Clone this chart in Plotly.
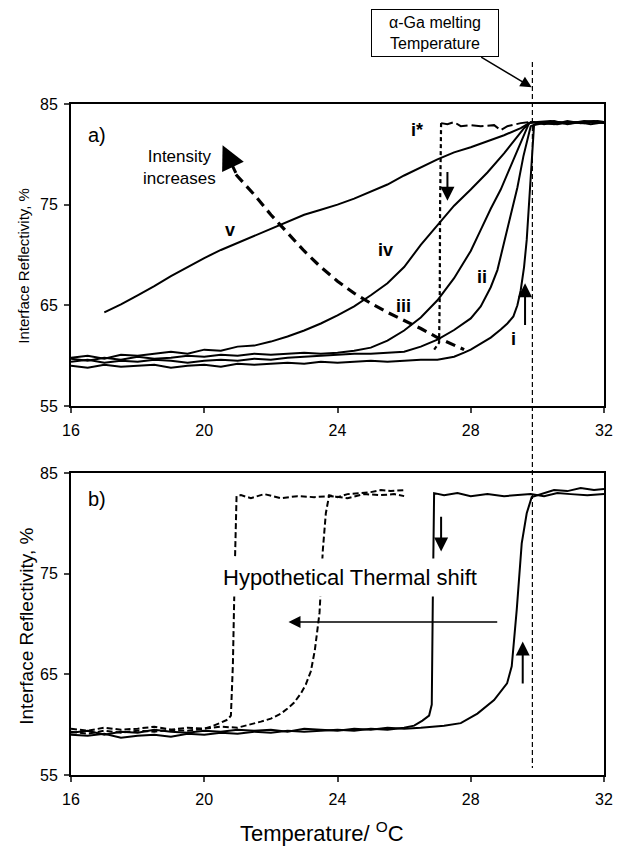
import plotly.graph_objects as go

# ---------------- Panel a data ----------------
A_I_X = [16.0,16.5,17.0,17.5,18.0,18.5,19.0,19.5,20.0,20.5,21.0,21.5,22.0,22.5,23.0,23.5,24.0,24.5,25.0,25.5,26.0,26.5,27.0,27.5,
         27.8,28.0,28.3,28.6,28.9,29.1,29.28,29.4,29.5,29.6,29.68,29.75,29.82,29.9,30.2,30.6,31.0,31.4,31.8,32.0]
A_I_Y = [59.0,58.8,59.1,58.9,59.0,59.1,58.8,59.0,59.1,58.9,59.2,59.1,59.2,59.3,59.2,59.4,59.3,59.4,59.5,59.4,59.5,59.6,59.6,59.9,
         60.3,60.6,61.2,61.8,62.6,63.2,63.9,65.0,66.5,68.8,71.5,75.0,79.5,82.9,83.1,83.0,83.2,83.1,83.3,83.2]

A_II_X = [16.0,16.5,17.0,17.5,18.0,18.5,19.0,19.5,20.0,20.5,21.0,21.5,22.0,22.5,23.0,23.5,24.0,24.5,25.0,25.5,26.0,26.5,
          27.0,27.5,28.0,28.3,28.6,28.8,29.0,29.2,29.4,29.58,29.7,29.8,30.1,30.5,30.9,31.3,31.7,32.0]
A_II_Y = [59.4,59.6,59.3,59.5,59.4,59.6,59.5,59.3,59.5,59.6,59.5,59.7,59.6,59.8,59.9,60.0,60.1,60.2,60.2,60.3,60.4,60.9,
          61.6,62.55,63.7,64.9,66.8,68.5,71.2,73.8,76.7,79.8,81.6,82.8,83.2,83.0,83.3,83.1,83.2,83.1]

A_III_X = [16.0,16.5,17.0,17.5,18.0,18.5,19.0,19.5,20.0,20.5,21.0,21.5,22.0,22.5,23.0,23.5,24.0,24.5,25.0,
           25.5,26.0,26.5,27.0,27.5,28.0,28.3,28.6,28.9,29.2,29.4,29.6,29.75,30.0,30.4,30.8,31.2,31.6,32.0]
A_III_Y = [59.7,59.5,59.8,59.6,59.9,59.7,59.8,60.0,59.9,60.1,60.0,60.2,60.1,60.2,60.3,60.2,60.3,60.5,60.8,
           61.5,62.5,63.8,65.5,67.7,70.4,72.5,74.6,76.5,78.8,80.4,82.0,83.1,83.2,83.3,83.1,83.2,83.0,83.2]

A_IV_X = [16.0,16.5,17.0,17.5,18.0,18.5,19.0,19.5,20.0,20.5,21.0,21.5,22.0,
          22.5,23.0,23.5,24.0,24.5,25.0,25.5,26.0,26.5,27.0,27.5,28.0,28.5,29.0,29.3,29.6,29.8,30.1,30.5,30.9,31.3,31.7,32.0]
A_IV_Y = [59.8,60.0,59.7,60.1,60.0,60.2,60.4,60.2,60.6,60.5,60.9,61.0,61.4,
          61.9,62.5,63.2,64.0,64.9,66.0,67.2,68.8,71.0,73.0,74.9,76.5,78.2,80.1,81.3,82.6,83.2,83.1,83.3,83.0,83.2,83.3,83.1]

A_V_X = [17.0,17.5,18.0,18.5,19.0,19.5,20.0,20.5,21.0,21.5,22.0,22.5,23.0,23.5,24.0,24.5,25.0,25.5,26.0,26.5,27.0,27.5,28.0,28.5,29.0,29.5,
         29.75,29.9,30.2,30.6,31.0,31.4,31.8,32.0]
A_V_Y = [64.3,65.1,66.0,66.9,67.9,68.8,69.7,70.5,71.2,71.9,72.6,73.3,74.0,74.5,75.0,75.6,76.3,77.0,77.9,78.7,79.5,80.2,80.7,81.3,81.9,82.6,
         83.1,83.2,83.0,83.2,83.1,83.3,83.2,83.2]

A_ISTAR_TOP_X = [27.11,27.3,27.5,27.7,28.0,28.3,28.7,28.9,29.1,29.5,29.75]
A_ISTAR_TOP_Y = [83.1,83.0,83.2,82.8,82.9,82.8,82.9,82.4,82.8,83.1,83.2]
A_ISTAR_DROP_X = [27.11,27.08,27.07,27.05,26.9]
A_ISTAR_DROP_Y = [83.1,75.0,66.0,61.3,60.6]

INTENSITY_X = [20.95,21.5,22.0,22.5,23.0,23.5,24.0,24.5,25.0,25.5,26.0,26.5,27.0,27.4,27.8]
INTENSITY_Y = [78.0,76.0,74.0,72.2,70.4,68.8,67.4,66.2,65.2,64.3,63.5,62.7,61.8,61.2,60.6]

# ---------------- Panel b data ----------------
B_A_X = [16.0,16.5,17.0,17.5,18.0,18.5,19.0,19.5,20.0,
         20.2,20.5,20.7,20.8,20.86,20.92,20.97,21.1,21.4,21.8,22.3,22.8,23.3,23.8,24.3,24.8,25.3,25.7,26.0]
B_A_Y = [59.3,59.1,59.4,59.2,59.4,59.3,59.5,59.4,59.6,
         59.8,60.2,60.5,60.9,66.0,76.0,82.7,82.8,82.5,82.9,82.5,82.7,82.6,82.7,82.5,82.9,82.8,82.9,82.7]

B_B_X = [16.0,16.5,17.0,17.5,18.0,18.5,19.0,19.5,20.0,20.5,21.0,
         21.4,21.7,22.0,22.3,22.5,22.7,22.9,23.05,23.2,23.32,23.46,23.52,23.56,23.65,23.75,24.0,24.3,24.7,25.0,25.3,25.6,26.0]
B_B_Y = [59.6,59.4,59.7,59.5,59.6,59.8,59.5,59.7,59.6,59.8,59.7,
         60.0,60.3,60.6,61.1,61.6,62.2,63.1,64.0,65.3,67.4,71.1,74.5,77.35,81.0,82.8,82.6,82.9,83.0,83.1,83.3,83.2,83.3]

B_C_X = [16.0,16.5,17.0,17.5,18.0,18.5,19.0,19.5,20.0,20.5,21.0,21.5,22.0,22.5,23.0,23.5,24.0,24.5,25.0,25.5,26.0,
         26.3,26.55,26.75,26.83,26.86,26.9,27.2,27.6,28.0,28.5,29.0,29.4,29.8,30.2,30.6,31.0,31.5,32.0]
B_C_Y = [59.0,58.9,59.1,58.7,58.9,59.0,58.8,59.1,59.0,59.2,59.1,59.3,59.2,59.4,59.3,59.4,59.5,59.4,59.6,59.5,59.7,
         59.9,60.4,60.9,62.0,72.0,83.0,82.8,83.0,82.7,82.9,82.7,82.8,82.9,82.7,83.0,82.9,82.8,82.9]

B_D_X = [16.0,16.5,17.0,17.5,18.0,18.5,19.0,19.5,20.0,20.5,21.0,21.5,22.0,22.5,23.0,23.5,24.0,24.5,25.0,25.5,26.0,26.5,27.0,
         27.2,27.7,28.2,28.7,29.09,29.23,29.38,29.53,29.68,29.83,30.1,30.5,30.9,31.3,31.7,32.0]
B_D_Y = [59.2,59.4,59.0,59.3,59.2,59.5,59.3,59.2,59.4,59.3,59.5,59.4,59.5,59.3,59.6,59.5,59.4,59.6,59.5,59.7,59.6,59.7,59.8,
         59.9,60.15,61.1,62.45,64.1,65.8,71.4,78.0,81.0,82.6,82.9,83.3,83.2,83.5,83.3,83.4]

X_TICKS = [16, 20, 24, 28, 32]
Y_TICKS = [55, 65, 75, 85]
MELT_T = 29.85

FONT = "Liberation Sans, Arial, sans-serif"

fig = go.Figure()


def add(x, y, xa, ya, dash="solid", width=2.0):
    fig.add_trace(go.Scatter(x=x, y=y, xaxis=xa, yaxis=ya, mode="lines",
                             line=dict(color="black", width=width, dash=dash),
                             showlegend=False, hoverinfo="skip"))


# panel a
for xs, ys in [(A_I_X, A_I_Y), (A_II_X, A_II_Y), (A_III_X, A_III_Y), (A_IV_X, A_IV_Y), (A_V_X, A_V_Y)]:
    add(xs, ys, "x", "y")
add(A_ISTAR_TOP_X, A_ISTAR_TOP_Y, "x", "y", dash="12px,4px")
add(A_ISTAR_DROP_X, A_ISTAR_DROP_Y, "x", "y", dash="4px,3px", width=2.2)
add(INTENSITY_X, INTENSITY_Y, "x", "y", dash="10px,6px", width=3.2)

# panel b
add(B_A_X, B_A_Y, "x2", "y2", dash="6px,3px")
add(B_B_X, B_B_Y, "x2", "y2", dash="6px,3px")
add(B_C_X, B_C_Y, "x2", "y2")
add(B_D_X, B_D_Y, "x2", "y2")

axis_common = dict(range=[16, 32], tickvals=X_TICKS, ticks="outside", ticklen=5, tickwidth=1.5,
                   showline=True, linecolor="black", linewidth=2, mirror=True, showgrid=False,
                   zeroline=False, tickfont=dict(size=16, color="black", family=FONT),
                   ticklabelstandoff=4)
yaxis_common = dict(range=[55, 85], tickvals=Y_TICKS, ticks="outside", ticklen=5, tickwidth=1.5,
                    showline=True, linecolor="black", linewidth=2, mirror=True, showgrid=False,
                    zeroline=False, tickfont=dict(size=16, color="black", family=FONT),
                    ticklabelstandoff=3)

fig.update_layout(
    width=625, height=846,
    margin=dict(l=71, r=13, t=104, b=71),
    paper_bgcolor="white", plot_bgcolor="white",
    font=dict(family=FONT, color="black"),
    xaxis=dict(anchor="y", domain=[0, 1], **axis_common),
    yaxis=dict(anchor="x", domain=[0.5499, 1], **yaxis_common),
    xaxis2=dict(anchor="y2", domain=[0, 1], **axis_common),
    yaxis2=dict(anchor="x2", domain=[0, 0.4501], **yaxis_common),
)

# melting temperature dashed line across both panels
fig.add_shape(type="line", xref="x", yref="paper", x0=MELT_T, x1=MELT_T, y0=1.0626, y1=0.0104,
              line=dict(color="black", width=1.2, dash="5px,3px"))

ann = []


def text(x, y, s, xr, yr, size, bold=False, **kw):
    d = dict(x=x, y=y, xref=xr, yref=yr, text=("<b>%s</b>" % s) if bold else s, showarrow=False,
             xanchor="center", yanchor="middle",
             font=dict(size=size, color="black", family=FONT))
    d.update(kw)
    ann.append(d)


def arrow(x0, y0, x1, y1, xr, yr, width=2, size=1.5, head=2):
    ann.append(dict(x=x1, y=y1, ax=x0, ay=y0, xref=xr, yref=yr, axref=xr, ayref=yr, text="",
                    showarrow=True, arrowhead=head, arrowsize=size, arrowwidth=width, arrowcolor="black"))


# panel a labels
text(16.45, 81.9, "a)", "x", "y", 20, xanchor="left")
text(19.27, 78.7, "Intensity<br>increases", "x", "y", 17)
text(20.78, 72.5, "v", "x", "y", 18, bold=True)
text(25.44, 70.5, "iv", "x", "y", 18, bold=True)
text(25.98, 64.9, "iii", "x", "y", 18, bold=True)
text(28.35, 67.85, "ii", "x", "y", 18, bold=True)
text(29.28, 61.7, "i", "x", "y", 18, bold=True)
text(26.38, 82.4, "i*", "x", "y", 18, bold=True)
arrow(27.3, 78.4, 27.3, 75.4, "x", "y", width=2, size=1.4)
arrow(29.63, 62.9, 29.63, 67.2, "x", "y", width=2, size=1.4)
arrow(20.97, 78.0, 20.55, 80.9, "x", "y", width=3, size=1.6)

# panel b labels
text(16.45, 82.4, "b)", "x2", "y2", 20, xanchor="left")
text(24.39, 74.6, "Hypothetical Thermal shift", "x2", "y2", 22, bgcolor="white", borderpad=6)
arrow(28.84, 70.2, 22.53, 70.2, "x2", "y2", width=1.5, size=1.6)
arrow(27.11, 80.8, 27.11, 77.2, "x2", "y2", width=2, size=1.4)
arrow(29.56, 63.95, 29.56, 68.25, "x2", "y2", width=2, size=1.4)

# melting temperature callout
text(0.682, 1.1054, "α-Ga melting<br>Temperature", "paper", "paper", 16,
     bordercolor="black", borderwidth=1, borderpad=4, bgcolor="white", width=118, height=38)
ann.append(dict(x=29.83, y=1.0249, xref="x", yref="paper", ax=-52, ay=-31, text="", showarrow=True,
                arrowhead=2, arrowsize=1.5, arrowwidth=1.5, arrowcolor="black"))

# axis titles
text(-0.0887, 0.7586, "Interface Reflectivity, %", "paper", "paper", 15, textangle=-90)
text(-0.085, 0.222, "Interface Reflectivity, %", "paper", "paper", 19, textangle=-90)
text(0.4713, -0.085, "Temperature/ <sup>O</sup>C", "paper", "paper", 22)

fig.update_layout(annotations=ann)
# remove the default page margin so the 625x846 figure fills the window exactly
fig.write_html("out.html", config={"displayModeBar": False},
               post_script="document.body.style.margin='0';")
